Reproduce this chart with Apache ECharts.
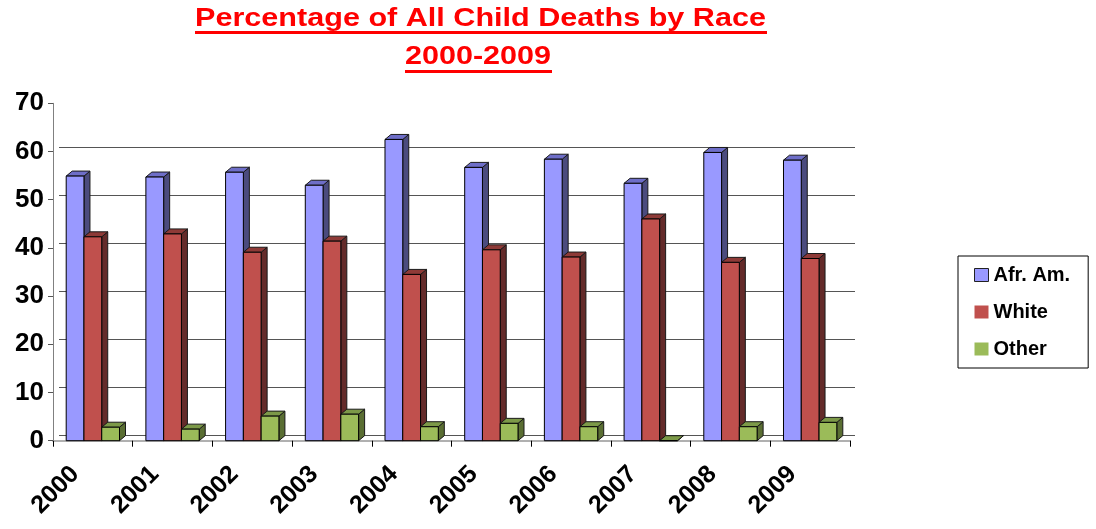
<!DOCTYPE html>
<html>
<head>
<meta charset="utf-8">
<script src="https://cdn.jsdelivr.net/npm/echarts@6/dist/echarts.min.js"></script>
<style>
  html, body { margin: 0; padding: 0; background: #fff; }
  #chart { width: 1096px; height: 529px; }
</style>
</head>
<body>
<div id="chart"></div>
<script>
// data
const years = ['2000', '2001', '2002', '2003', '2004', '2005', '2006', '2007', '2008', '2009'];
const afrAm = [54.9, 54.7, 55.7, 53.0, 62.5, 56.7, 58.4, 53.4, 59.8, 58.2];
const white = [42.3, 42.9, 39.1, 41.4, 34.5, 39.6, 38.1, 46.0, 37.0, 37.8];
const other = [2.8, 2.4, 5.1, 5.5, 2.9, 3.6, 2.9, 0, 2.9, 3.8];
const yTicks = [0, 10, 20, 30, 40, 50, 60, 70];

const FONT = '"Liberation Sans", Arial, sans-serif';
const DX = 6, DY = 5; // fake 3d depth

// front / side / top colours
const palette = [
  { front: '#9999FF', side: '#4B4B7E', top: '#6E6EC8' },
  { front: '#C0504D', side: '#642B2A', top: '#8E3A37' },
  { front: '#9BBB59', side: '#5A6E33', top: '#7C9948' }
];

function bar3d(idx) {
  const col = palette[idx];
  return function (params, api) {
    const cat = api.value(0);
    const val = api.value(1);
    const band = api.size([1, 0])[0];
    const bw = band * 0.223;
    const top = api.coord([cat, val]);
    const base = api.coord([cat, 0]);
    const xl = top[0] - 1.5 * bw + idx * bw;
    const xr = xl + bw;
    const yt = top[1];
    const y0 = base[1];
    return {
      type: 'group',
      children: [
        {
          type: 'polygon',
          shape: { points: [[xr, yt], [xr + DX, yt - DY], [xr + DX, y0 - DY], [xr, y0]] },
          style: { fill: col.side, stroke: '#1a1a1a', lineWidth: 1 }
        },
        {
          type: 'polygon',
          shape: { points: [[xl, yt], [xl + DX, yt - DY], [xr + DX, yt - DY], [xr, yt]] },
          style: { fill: col.top, stroke: '#1a1a1a', lineWidth: 1 }
        },
        {
          type: 'rect',
          shape: { x: xl, y: yt, width: bw, height: y0 - yt },
          style: { fill: col.front, stroke: '#000', lineWidth: 1 }
        }
      ]
    };
  };
}

function makeSeries(name, values, idx) {
  return {
    name: name,
    type: 'custom',
    xAxisIndex: 0,
    yAxisIndex: 0,
    z: 2 + idx,
    itemStyle: { color: palette[idx].front },
    renderItem: bar3d(idx),
    encode: { x: 0, y: 1 },
    data: values.map((v, i) => [i, v])
  };
}

const chart = echarts.init(document.getElementById('chart'));

const option = {
  animation: false,
  backgroundColor: '#fff',
  graphic: [
    {
      type: 'text', x: 480.5, y: 18.5, scaleX: 1.176,
      style: { text: 'Percentage of All Child Deaths by Race', font: 'bold 26px ' + FONT, fill: '#FF0000', align: 'center', verticalAlign: 'middle' }
    },
    {
      type: 'text', x: 478, y: 57, scaleX: 1.176,
      style: { text: '2000-2009', font: 'bold 26px ' + FONT, fill: '#FF0000', align: 'center', verticalAlign: 'middle' }
    },
    { type: 'rect', shape: { x: 195, y: 31, width: 572, height: 3 }, style: { fill: '#FF0000' } },
    { type: 'rect', shape: { x: 405, y: 70, width: 147, height: 3 }, style: { fill: '#FF0000' } }
  ],
  legend: {
    orient: 'vertical',
    left: 958,
    top: 256,
    padding: [7, 18, 7, 16],
    itemGap: 13,
    itemWidth: 14,
    itemHeight: 13,
    icon: 'rect',
    borderColor: '#000',
    borderWidth: 1,
    textStyle: { fontFamily: FONT, fontWeight: 'bold', fontSize: 20, color: '#000', lineHeight: 24 },
    data: [
      { name: 'Afr. Am.', itemStyle: { borderColor: '#222', borderWidth: 1 } },
      { name: 'White', itemStyle: { borderWidth: 0 } },
      { name: 'Other', itemStyle: { borderWidth: 0 } }
    ]
  },
  grid: [
    { left: 53, right: 246, top: 103.3, bottom: 88.3 },
    // back wall of the 3d box, carries the gridlines
    { left: 59, right: 241, top: 147.3, bottom: 93.3 }
  ],
  xAxis: [
    {
      type: 'category',
      gridIndex: 0,
      data: years,
      axisLine: { show: true, lineStyle: { color: '#b0b0b0', width: 2 } },
      axisTick: { show: true, length: 6, lineStyle: { color: '#000' } },
      axisLabel: {
        rotate: 45,
        interval: 0,
        margin: 12,
        padding: [0, 25, 0, 0],
        fontFamily: FONT,
        fontWeight: 'bold',
        fontSize: 25,
        color: '#000'
      }
    },
    { type: 'value', gridIndex: 1, show: false, min: 0, max: 1 }
  ],
  yAxis: [
    {
      type: 'value',
      gridIndex: 0,
      min: yTicks[0],
      max: yTicks[yTicks.length - 1],
      interval: 10,
      axisLine: { show: true, lineStyle: { color: '#808080' } },
      axisTick: { show: true, length: 5, lineStyle: { color: '#555' } },
      splitLine: { show: false },
      axisLabel: {
        margin: 9,
        fontFamily: FONT,
        fontWeight: 'bold',
        fontSize: 26,
        color: '#000'
      }
    },
    {
      type: 'value',
      gridIndex: 1,
      min: 0,
      max: 60,
      interval: 10,
      axisLine: { show: false },
      axisTick: { show: false },
      axisLabel: { show: false },
      splitLine: { show: true, lineStyle: { color: '#555', width: 1 } }
    }
  ],
  series: [
    makeSeries('Afr. Am.', afrAm, 0),
    makeSeries('White', white, 1),
    makeSeries('Other', other, 2)
  ]
};

chart.setOption(option);
</script>
</body>
</html>
